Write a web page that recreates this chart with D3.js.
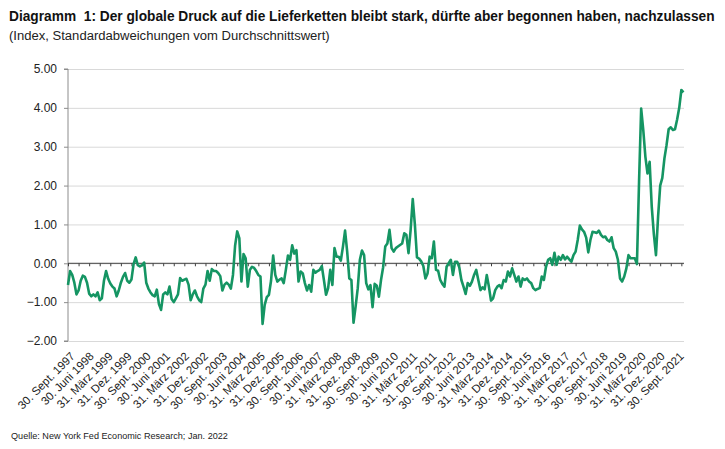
<!DOCTYPE html>
<html>
<head>
<meta charset="utf-8">
<script src="https://cdn.jsdelivr.net/npm/d3@7"></script>
<style>
  html, body { margin: 0; padding: 0; background: #fff; }
  svg { display: block; font-family: "Liberation Sans", Arial, sans-serif; }
</style>
</head>
<body>
<svg id="chart" width="725" height="449"></svg>
<script>
// ---- Data (monthly, 30. Sept. 1997 – Dez. 2021) ----
const values = [
  -0.56, -0.2, -0.3, -0.5, -0.8, -0.7, -0.45, -0.32, -0.35, -0.5,
  -0.78, -0.85, -0.8, -0.85, -0.75, -0.95, -0.9, -0.45, -0.2, -0.4,
  -0.52, -0.6, -0.65, -0.85, -0.7, -0.5, -0.35, -0.25, -0.45, -0.5,
  -0.42, -0.02, 0.15, -0.05, -0.08, -0.05, 0.02, -0.5, -0.65, -0.75,
  -0.82, -0.85, -0.68, -1.05, -1.2, -0.8, -0.75, -0.8, -0.6, -0.92,
  -1.0, -0.9, -0.8, -0.38, -0.45, -0.42, -0.4, -0.55, -0.95, -0.8,
  -0.7, -0.85, -0.95, -1.0, -0.65, -0.55, -0.2, -0.45, -0.15, -0.2,
  -0.2, -0.25, -0.33, -0.7, -0.55, -0.5, -0.55, -0.65, -0.3, 0.45,
  0.82, 0.65, -0.47, 0.24, 0.13, -0.6, -0.17, -0.09, -0.12, -0.2,
  -0.3, -0.34, -1.56, -1.07, -0.87, -0.81, -0.45, 0.2, -0.3, -0.47,
  -0.42, -0.39, -0.51, -0.17, 0.2, 0.09, 0.46, 0.25, 0.34, -0.47,
  -0.21, -0.26, -0.51, -0.7, -0.56, -0.73, -0.17, -0.24, -0.2, -0.17,
  -0.07, -0.43, -0.81, -0.64, -0.17, -0.56, 0.39, 0.17, 0.17, 0.07,
  0.43, 0.84, 0.3, -0.39, -0.43, -1.53, -1.11, -0.64, 0.09, 0.33,
  0.21, -0.51, -0.67, -0.56, -1.13, -0.53, -0.58, -0.86, -0.43, -0.1,
  0.43, 0.51, 0.86, 0.39, 0.3, 0.39, 0.43, 0.47, 0.51, 0.77,
  0.73, 0.26, 0.86, 1.65, 1.0, 0.15, 0.12, 0.05, -0.07, -0.39,
  -0.26, 0.17, 0.13, 0.56, -0.17, -0.19, -0.43, -0.53, -0.6, -0.09,
  0.0, 0.09, -0.3, 0.04, 0.04, -0.1, -0.43, -0.6, -0.79, -0.51,
  -0.58, -0.47, -0.3, -0.17, -0.43, -0.69, -0.62, -0.67, -0.3, -0.6,
  -0.96, -0.9, -0.69, -0.6, -0.56, -0.64, -0.43, -0.47, -0.21, -0.34,
  -0.13, -0.3, -0.47, -0.34, -0.6, -0.39, -0.43, -0.39, -0.47, -0.51,
  -0.64, -0.69, -0.66, -0.64, -0.34, -0.43, -0.09, 0.09, 0.13, -0.04,
  0.27, -0.04, 0.17, 0.09, 0.21, 0.1, 0.17, 0.1, 0.04, 0.21,
  0.3, 0.6, 0.97, 0.87, 0.81, 0.66, 0.28, 0.6, 0.81, 0.8,
  0.78, 0.84, 0.73, 0.67, 0.69, 0.6, 0.56, 0.67, 0.39, 0.3,
  0.09, -0.39, -0.47, -0.34, -0.13, 0.21, 0.13, 0.13, 0.13, -0.02,
  2.1, 3.98, 3.43, 2.74, 2.31, 2.61, 1.46, 0.75, 0.21, 1.2,
  2.0, 2.2, 2.7, 3.04, 3.45, 3.5, 3.43, 3.45, 3.7, 4.0,
  4.46, 4.4
];
const xLabels = [
  "30. Sept. 1997", "30. Juni 1998", "31. März 1999", "31. Dez. 1999",
  "30. Sept. 2000", "30. Juni 2001", "31. März 2002", "31. Dez. 2002",
  "30. Sept. 2003", "30. Juni 2004", "31. März 2005", "31. Dez. 2005",
  "30. Sept. 2006", "30. Juni 2007", "31. März 2008", "31. Dez. 2008",
  "30. Sept. 2009", "30. Juni 2010", "31. März 2011", "31. Dez. 2011",
  "30. Sept. 2012", "30. Juni 2013", "31. März 2014", "31. Dez. 2014",
  "30. Sept. 2015", "30. Juni 2016", "31. März 2017", "31. Dez. 2017",
  "30. Sept. 2018", "30. Juni 2019", "31. März 2020", "31. Dez. 2020",
  "30. Sept. 2021"
];
const labelStep = 9;   // months between category labels
const tickStep = 5;    // months between tick marks
const yTicks = [-2, -1, 0, 1, 2, 3, 4, 5];
const titleText = "Diagramm  1: Der globale Druck auf die Lieferketten bleibt stark, dürfte aber begonnen haben, nachzulassen";
const subtitleText = "(Index, Standardabweichungen vom Durchschnittswert)";
const sourceText = "Quelle: New York Fed Economic Research; Jan. 2022";

// ---- Layout ----
const svg = d3.select("#chart");
const mLeft = 68, mRight = 684, mTop = 69, mBottom = 341;
const lastIdx = values.length - 1;

const x = d3.scaleLinear().domain([0, lastIdx]).range([mLeft, mLeft + lastIdx * 2.115]);
const y = d3.scaleLinear().domain([-2, 5]).range([mBottom, mTop]);

// Horizontally condensed text: measured, then scaled to the target width
function condensedText(str, px, py, size, weight, width) {
  const t = svg.append("text").attr("x", 0).attr("y", 0)
    .attr("font-size", size).attr("font-weight", weight).attr("fill", "#111")
    .style("white-space", "pre")
    .text(str);
  const w = t.node().getComputedTextLength();
  t.attr("transform", `translate(${px},${py}) scale(${width / w},1)`);
  return t;
}
condensedText(titleText, 9, 21, 14, "bold", 706);
condensedText(subtitleText, 9, 40, 12, "normal", 321).attr("fill", "#222");
condensedText(sourceText, 11, 439, 9.5, "normal", 217).attr("fill", "#222");

// Gridlines
svg.append("g")
  .attr("transform", `translate(${mLeft},0)`)
  .call(d3.axisLeft(y).tickValues(yTicks).tickSize(-(mRight - mLeft)).tickFormat(""))
  .call(g => g.select(".domain").remove())
  .call(g => g.selectAll(".tick line").attr("stroke", "#d9d9d9").attr("stroke-width", 1));

// Y axis
const yAxis = svg.append("g")
  .attr("transform", `translate(${mLeft},0)`)
  .call(d3.axisLeft(y).tickValues(yTicks).tickSize(4).tickPadding(7).tickFormat(d3.format(".2f")));
yAxis.select(".domain").attr("stroke", "#8c8c8c").attr("d", `M-4,${mTop}H0V${mBottom}H-4`);
yAxis.selectAll(".tick line").attr("stroke", "#8c8c8c");
yAxis.selectAll(".tick text").attr("font-size", 12).attr("fill", "#222")
  .attr("font-family", "Liberation Sans, Arial, sans-serif");

// X axis at zero with ticks every 5 months
const tickIdx = d3.range(0, values.length, tickStep);
const xAxis = svg.append("g")
  .attr("transform", `translate(0,${y(0)})`)
  .call(d3.axisBottom(x).tickValues(tickIdx).tickSize(3).tickFormat(""));
xAxis.select(".domain").attr("stroke", "#404040").attr("d", `M${mLeft},0H${mRight}`);
xAxis.selectAll(".tick line").attr("stroke", "#404040");

// Category labels at bottom
const labelIdx = xLabels.map((_, k) => k * labelStep);
const lab = svg.append("g")
  .attr("transform", `translate(0,${mBottom})`)
  .call(d3.axisBottom(x).tickValues(labelIdx).tickSize(0)
    .tickFormat((d) => xLabels[d / labelStep]));
lab.select(".domain").remove();
lab.selectAll(".tick text")
  .attr("font-size", 11.5).attr("fill", "#222")
  .attr("font-family", "Liberation Sans, Arial, sans-serif")
  .attr("text-anchor", "end")
  .attr("dy", null).attr("y", 0)
  .attr("transform", "translate(7,16) rotate(-45)");

// Line
const line = d3.line().x((d, i) => x(i)).y(d => y(d));
svg.append("path")
  .datum(values)
  .attr("fill", "none")
  .attr("stroke", "#159563")
  .attr("stroke-width", 2.6)
  .attr("stroke-linejoin", "round")
  .attr("d", line);
</script>
</body>
</html>
